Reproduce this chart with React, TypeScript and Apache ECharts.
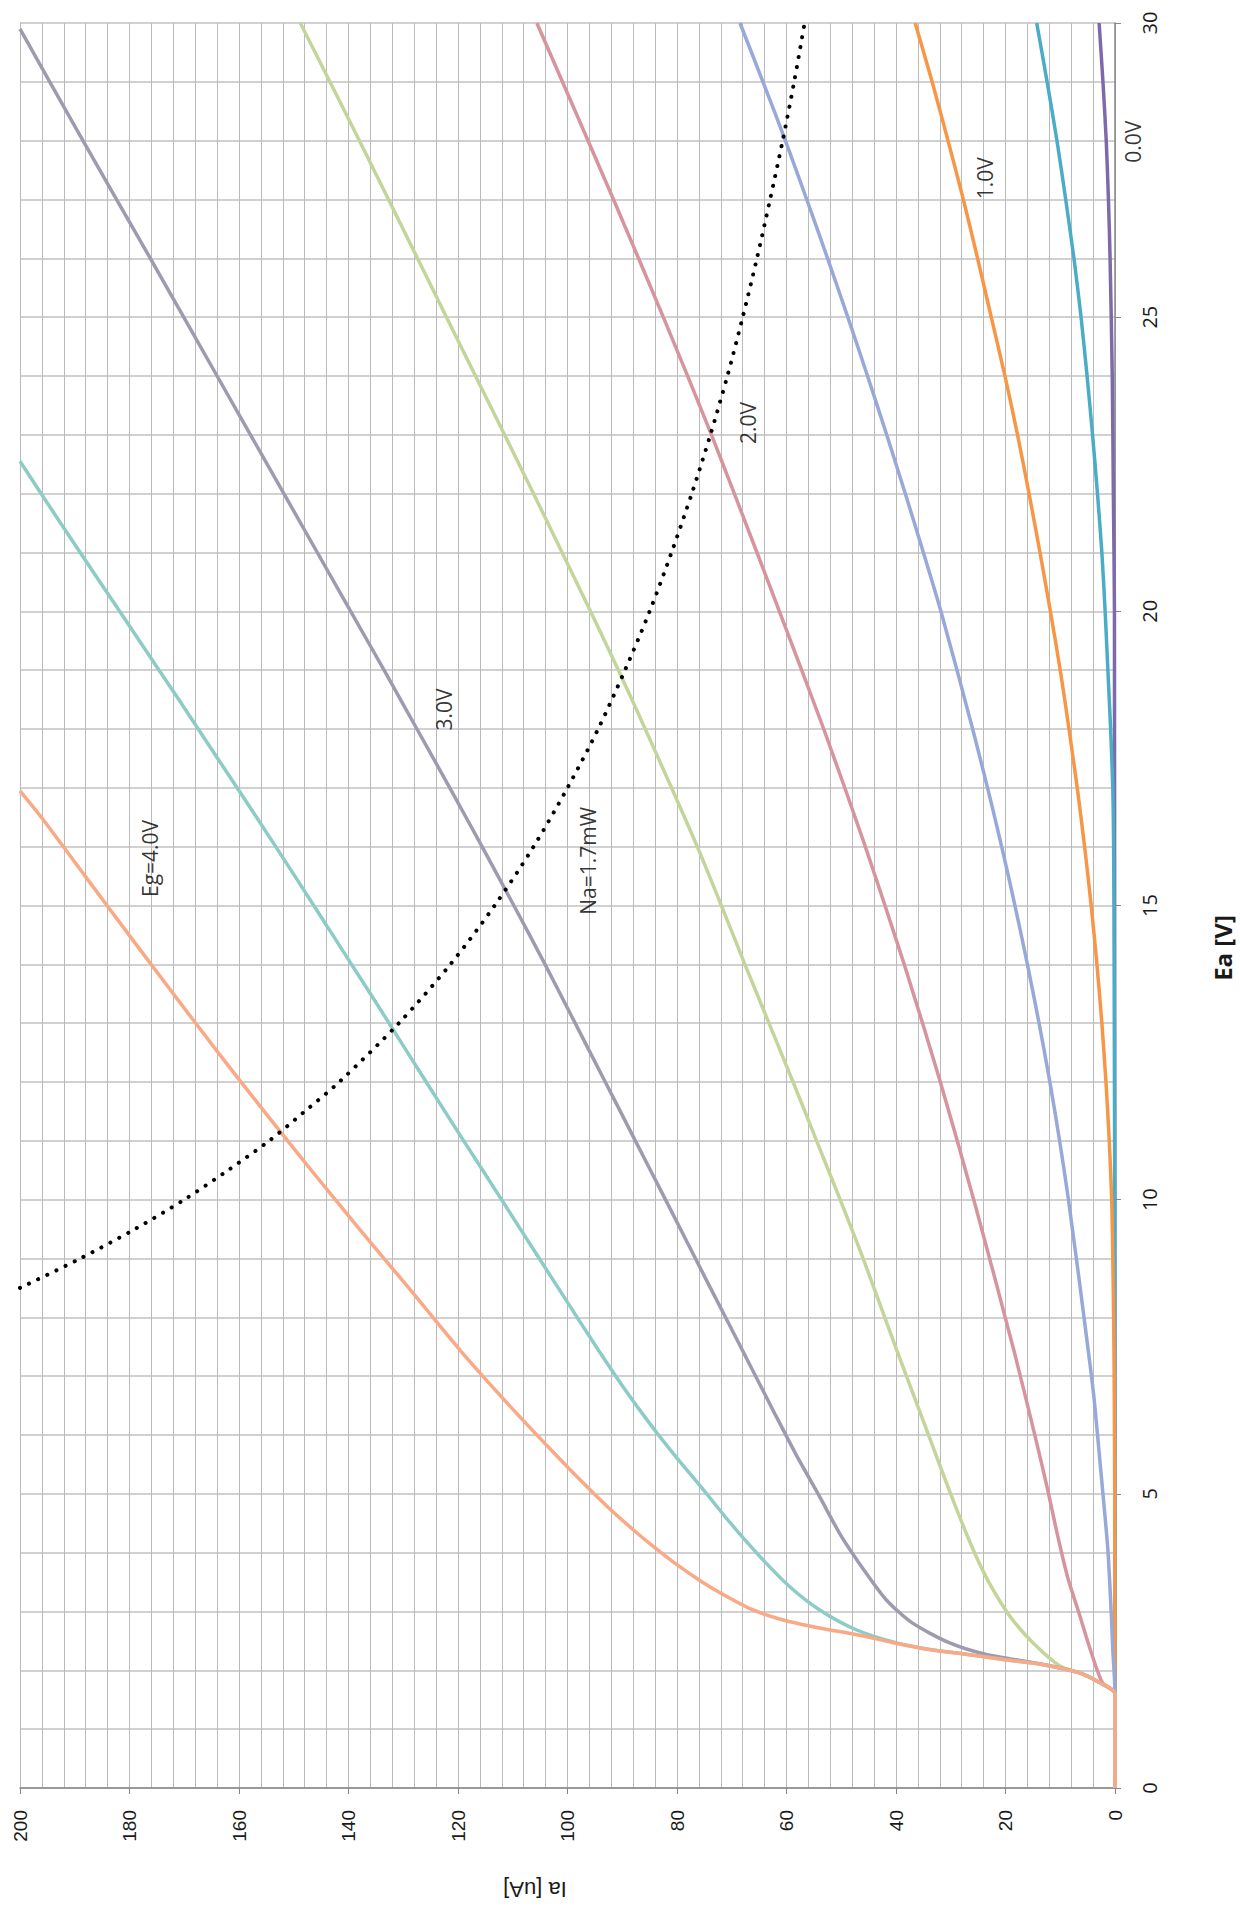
import React, { useEffect, useRef } from "react";
import * as echarts from "echarts";

// ---- data: plate voltage Ea [V] and plate current Ia [uA] per grid voltage curve ----
const eg40Ea = [0, 1.6, 1.8, 1.96, 2.1, 2.18, 2.27, 2.35, 2.47, 2.61, 2.72, 2.86, 3.03, 3.26, 3.49, 3.8, 4.11, 4.39, 4.79, 5.2, 5.6, 6.5, 7.44, 8.5, 9.5, 10.5, 11.5, 12.5, 13.5, 14.5, 15.5, 16.5, 16.95];
const eg40Ia = [0, 0, 3, 6.6, 13.4, 20.1, 26.9, 33.7, 40.5, 47.3, 54, 60.8, 66.2, 71, 75.2, 80.1, 84.4, 88, 92.8, 97.3, 101.5, 110.6, 119.6, 129, 138, 146.8, 155.4, 163.8, 172, 180.1, 188.1, 196.1, 200];

const eg35Ea = [0, 1.6, 1.8, 1.96, 2.1, 2.18, 2.27, 2.35, 2.47, 2.69, 3.03, 3.43, 3.94, 4.51, 5.07, 5.64, 6.21, 6.8, 7.45, 8.5, 9.5, 10.5, 11.5, 12.5, 13.5, 14.5, 15.5, 16.5, 17.5, 18.5, 19.5, 20.5, 21.5, 22.55];
const eg35Ia = [0, 0, 3, 6.6, 13.4, 20.1, 26.9, 33.5, 40, 47.3, 54, 59.5, 64.9, 70.3, 75.2, 80.3, 85.1, 89.7, 94.4, 101.7, 108.6, 115.5, 122.4, 129.2, 136, 142.9, 149.8, 156.8, 163.9, 171, 178.2, 185.4, 192.6, 200];

const eg30Ea = [0, 1.6, 1.8, 1.96, 2.1, 2.27, 2.47, 2.81, 3.2, 3.71, 4.28, 4.96, 5.64, 6.32, 7.45, 8.5, 10, 11, 12, 13, 14, 15, 16, 17, 18, 19, 20, 22, 24, 26, 28, 29.9];
const eg30Ia = [0, 0, 3, 6.6, 13, 23.5, 30.3, 37.1, 41.8, 45.9, 50, 54, 58.1, 61.9, 68.1, 73.9, 82.1, 87.6, 93.1, 98.6, 104.1, 109.8, 115.6, 121.5, 127.5, 133.5, 139.6, 151.8, 164, 176.2, 188.5, 200];

const eg25Ea = [0, 1.6, 1.8, 1.96, 2.07, 2.47, 2.92, 3.49, 4.05, 4.73, 5.41, 6.21, 7.45, 9, 10, 11, 12, 13, 14, 15, 16, 17, 18, 19, 20, 22, 24, 26, 28, 30];
const eg25Ia = [0, 0, 3, 6.6, 10, 15, 19.2, 23, 25.9, 28.9, 31.7, 34.9, 39.9, 46, 50.2, 54.5, 58.8, 63.2, 67.6, 71.9, 76.3, 81, 85.8, 90.7, 95.8, 106.2, 116.8, 127.4, 138, 148.8];

const eg20Ea = [0, 1.6, 1.79, 2.35, 2.92, 3.6, 4.34, 5.07, 5.98, 7.45, 10, 12, 14, 16, 18, 20, 21, 23, 25, 27, 30];
const eg20Ia = [0, 0, 2.3, 4.5, 6.4, 8.7, 10.6, 12.3, 14.6, 18.5, 25.8, 31.9, 38.5, 45.6, 53.2, 61.3, 65.4, 73.7, 82.5, 91.6, 105.6];

const eg15Ea = [0, 1.6, 2.35, 3, 4.05, 5, 5.5, 6.6, 7.45, 10, 12, 14, 16, 18, 20, 21, 22, 23, 24, 25, 26, 27, 28, 29, 30];
const eg15Ia = [0, 0, 0.4, 0.7, 1.3, 2.2, 2.7, 3.8, 4.9, 8.5, 11.9, 16, 20.7, 26, 31.8, 35, 38.3, 41.7, 45.2, 48.8, 52.5, 56.3, 60.2, 64.3, 68.5];

const eg10Ea = [0, 5, 7, 8, 9, 10, 11, 12, 13, 14, 15, 16, 17, 18, 19, 20, 21, 22, 23, 24, 25, 26, 27, 28, 29, 30];
const eg10Ia = [0, 0.05, 0.15, 0.25, 0.4, 0.6, 1.05, 1.65, 2.4, 3.3, 4.35, 5.55, 6.9, 8.4, 10, 11.8, 13.7, 15.7, 17.8, 20.1, 22.6, 25.1, 27.7, 30.5, 33.4, 36.5];

const eg05Ea = [0, 10, 12, 14, 16, 17, 18, 19, 20, 21, 22, 23, 24, 25, 26, 27, 28, 29, 30];
const eg05Ia = [0, 0.05, 0.1, 0.15, 0.25, 0.4, 0.8, 1.3, 1.8, 2.4, 3.2, 4.1, 5.1, 6.2, 7.5, 9, 10.6, 12.4, 14.3];

const eg00Ea = [0, 20, 22, 24, 26, 27, 28, 29, 30];
const eg00Ia = [0, 0.1, 0.3, 0.5, 0.9, 1.2, 1.6, 2.2, 2.9];

// Na = 1.7 mW power line
const naEa = [8.5, 9, 9.5, 10, 10.5, 11, 11.5, 12, 13, 14, 15, 16, 17, 18, 19, 20, 21, 22, 23, 24, 25, 26, 27, 28, 29, 30];
const naIa = [200, 189, 179, 170, 162, 154.5, 148, 141.7, 130.8, 121.4, 113.3, 106.2, 100, 94.4, 89.5, 85, 81, 77.3, 73.9, 70.8, 68, 65.4, 63, 60.7, 58.6, 56.7];

const curveNames = ["Eg=0.0V", "Eg=0.5V", "Eg=1.0V", "Eg=1.5V", "Eg=2.0V", "Eg=2.5V", "Eg=3.0V", "Eg=3.5V", "Eg=4.0V"];
const curveEa = [eg00Ea, eg05Ea, eg10Ea, eg15Ea, eg20Ea, eg25Ea, eg30Ea, eg35Ea, eg40Ea];
const curveIa = [eg00Ia, eg05Ia, eg10Ia, eg15Ia, eg20Ia, eg25Ia, eg30Ia, eg35Ia, eg40Ia];
const curveColors = ["#7E6AAB", "#4BACC6", "#F79646", "#97A8D9", "#D5949E", "#C3D59B", "#9E9AB0", "#8DCBC6", "#F9A985"];

// in-plot annotations (positioned in data space: Ia, Ea)
const noteTexts = ["Eg=4.0V", "3.0V", "2.0V", "1.0V", "0.0V", "Na=1.7mW"];
const noteIa = [176.3, 122.6, 67, 23.7, -3.3, 96.3];
const noteEa = [15.8, 18.33, 23.2, 27.36, 27.98, 15.76];

const iaMin = 0, iaMax = 200, iaStep = 20;
const eaMin = 0, eaMax = 30, eaStep = 5;

function pairs(ia: number[], ea: number[]) {
  return ea.map((e, i) => [ia[i], e]);
}

export default function App() {
  const ref = useRef<HTMLDivElement>(null);
  useEffect(() => {
    if (!ref.current) return;
    const chart = echarts.init(ref.current, null, { renderer: "svg" });
    const gridColor = "#bababa";
    const axisColor = "#868686";
    const series: any[] = curveNames.map((name, i) => ({
      type: "line",
      name,
      data: pairs(curveIa[i], curveEa[i]),
      symbol: "none",
      showSymbol: false,
      smooth: 0.25,
      lineStyle: { color: curveColors[i], width: 3.5 },
      itemStyle: { color: curveColors[i] },
      z: 3,
    }));
    series.push({
      type: "line",
      name: "Na=1.7mW",
      data: pairs(naIa, naEa),
      symbol: "none",
      showSymbol: false,
      smooth: 0.3,
      lineStyle: { color: "#000", width: 4, type: [0.1, 10], cap: "round" },
      z: 4,
    });
    series.push({
      type: "scatter",
      name: "notes",
      data: noteTexts.map((t, i) => ({ value: [noteIa[i], noteEa[i]], name: t })),
      symbolSize: 1,
      itemStyle: { color: "rgba(0,0,0,0)" },
      clip: false,
      silent: true,
      z: 5,
      label: {
        show: true,
        position: "inside",
        rotate: 90,
        formatter: "{b}",
        fontSize: 21,
        fontFamily: "Open Sans",
        color: "#000",
      },
    });

    chart.setOption({
      animation: false,
      backgroundColor: "#ffffff",
      grid: { left: 20, right: 125, top: 23, bottom: 133, containLabel: false },
      xAxis: {
        type: "value",
        min: iaMin,
        max: iaMax,
        interval: iaStep,
        inverse: true,
        position: "bottom",
        axisLine: { show: true, onZero: false, lineStyle: { color: axisColor, width: 1.5 } },
        axisTick: { show: true, length: 6, lineStyle: { color: axisColor } },
        axisLabel: {
          rotate: 90,
          margin: 22,
          fontSize: 19,
          fontFamily: "Liberation Sans",
          color: "#1a1a1a",
        },
        splitLine: { show: true, lineStyle: { color: gridColor, width: 1 } },
        minorTick: { show: false, splitNumber: 5 },
        minorSplitLine: { show: true, lineStyle: { color: gridColor, width: 1 } },
      },
      yAxis: {
        type: "value",
        min: eaMin,
        max: eaMax,
        interval: eaStep,
        position: "right",
        axisLine: { show: true, onZero: false, lineStyle: { color: axisColor, width: 1.5 } },
        axisTick: { show: true, length: 6, lineStyle: { color: axisColor } },
        axisLabel: {
          rotate: 90,
          margin: 24,
          fontSize: 20,
          fontFamily: "Open Sans",
          color: "#1a1a1a",
        },
        splitLine: { show: true, lineStyle: { color: "#c2c2c2", width: 1.5 } },
        minorTick: { show: false, splitNumber: 5 },
        minorSplitLine: { show: true, lineStyle: { color: "#c2c2c2", width: 1.5 } },
      },
      graphic: [
        {
          type: "text",
          x: 535,
          y: 1889,
          rotation: Math.PI,
          style: {
            text: "Ia [uA]",
            fontSize: 22,
            fontFamily: "Liberation Sans",
            fill: "#1a1a1a",
            align: "center",
            verticalAlign: "middle",
            textAlign: "center",
            textVerticalAlign: "middle",
          },
        },
        {
          type: "text",
          x: 1222,
          y: 948,
          rotation: Math.PI / 2,
          style: {
            text: "Ea [V]",
            fontSize: 24,
            fontWeight: "bold",
            fontFamily: "Open Sans",
            fill: "#1a1a1a",
            align: "center",
            verticalAlign: "middle",
            textAlign: "center",
            textVerticalAlign: "middle",
          },
        },
      ],
      series,
    });
    return () => chart.dispose();
  }, []);
  return (
    <div
      ref={ref}
      style={{ position: "absolute", left: 0, top: 0, width: 1240, height: 1921, background: "#fff" }}
    />
  );
}
